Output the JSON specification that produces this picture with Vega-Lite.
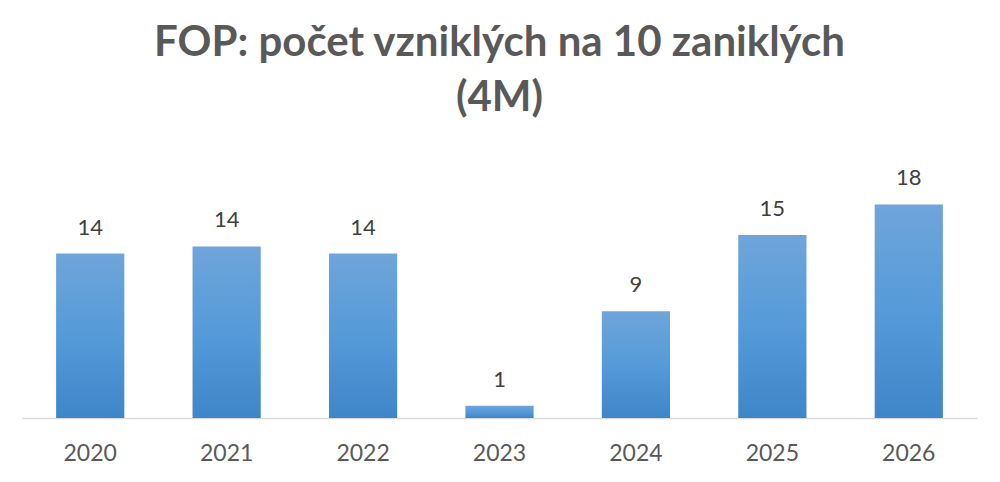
{
  "$schema": "https://vega.github.io/schema/vega-lite/v6.json",
  "width": 955,
  "height": 240,
  "autosize": {"type": "none"},
  "padding": {"left": 22, "top": 178, "right": 23, "bottom": 64},
  "background": "white",
  "config": {"view": {"stroke": null}, "font": "Lato"},
  "title": {
    "text": ["FOP: počet vzniklých na 10 zaniklých", "(4M)"],
    "font": "Lato",
    "fontSize": 42,
    "fontWeight": "bold",
    "color": "#595959",
    "lineHeight": 55,
    "anchor": "middle",
    "offset": 47
  },
  "data": {
    "values": [
      {"year": "2020", "value": 13.7},
      {"year": "2021", "value": 14.3},
      {"year": "2022", "value": 13.7},
      {"year": "2023", "value": 1.03},
      {"year": "2024", "value": 8.9},
      {"year": "2025", "value": 15.25},
      {"year": "2026", "value": 17.8}
    ]
  },
  "encoding": {
    "x": {
      "field": "year",
      "type": "nominal",
      "sort": null,
      "scale": {"paddingInner": 0.5, "paddingOuter": 0.25},
      "axis": {
        "title": null,
        "labelAngle": 0,
        "labelFontSize": 23,
        "labelColor": "#595959",
        "labelFont": "Lato",
        "labelPadding": 24,
        "ticks": false,
        "domainColor": "#d9d9d9",
        "domainWidth": 1.5,
        "grid": false
      }
    },
    "y": {
      "field": "value",
      "type": "quantitative",
      "scale": {"domain": [0, 20], "nice": false},
      "axis": null
    }
  },
  "layer": [
    {
      "mark": {
        "type": "bar",
        "color": {
          "gradient": "linear",
          "x1": 0, "y1": 0, "x2": 0, "y2": 1,
          "stops": [
            {"offset": 0, "color": "#6fa5da"},
            {"offset": 0.5, "color": "#559ad9"},
            {"offset": 1, "color": "#3f86c8"}
          ]
        }
      }
    },
    {
      "mark": {
        "type": "text",
        "baseline": "alphabetic",
        "dy": -19,
        "fontSize": 22,
        "font": "Lato",
        "color": "#404040"
      },
      "encoding": {
        "text": {"field": "value", "type": "quantitative", "format": ".0f"}
      }
    }
  ]
}
